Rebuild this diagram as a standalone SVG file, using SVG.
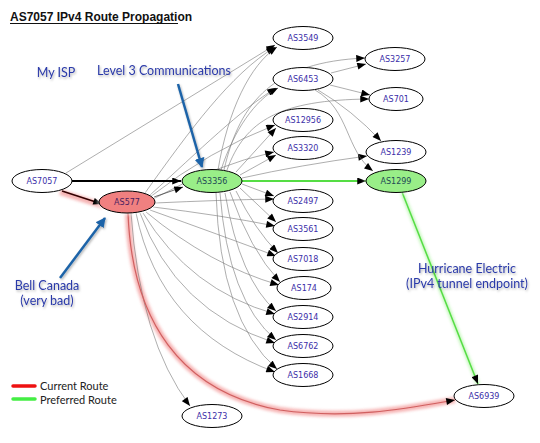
<svg xmlns="http://www.w3.org/2000/svg" width="540" height="443" viewBox="0 0 540 443">
<style>
.n ellipse{stroke:#000;stroke-width:1;fill:#fff}
.n text{font-family:"DejaVu Sans",sans-serif;font-size:8px;fill:#3b2ea8;text-anchor:middle}
.e{fill:none;stroke:#777;stroke-width:0.6;marker-end:url(#ah)}
.lbl{font-family:Lato,"Open Sans","Liberation Sans",sans-serif;font-size:12.5px;fill:#2b3aa8;text-anchor:middle;filter:url(#sh)}
.ba{stroke:#1f64a8;stroke-width:2.5;fill:none;marker-end:url(#bh);filter:url(#sh)}
</style>
<defs>
<marker id="ah" viewBox="0 0 10 8" refX="10" refY="4" markerWidth="10" markerHeight="7" markerUnits="userSpaceOnUse" orient="auto"><path d="M0,0 L10,4 L0,8 Z" fill="#000"/></marker>
<marker id="bh" viewBox="0 0 10 10" refX="9" refY="5" markerWidth="10" markerHeight="14" markerUnits="userSpaceOnUse" orient="auto"><path d="M0,0 L10,5 L0,10 Z" fill="#1f64a8"/></marker>
<filter id="sh" x="-20%" y="-20%" width="140%" height="140%"><feDropShadow dx="1" dy="1.5" stdDeviation="1" flood-color="#000" flood-opacity="0.3"/></filter>
<filter id="gl" x="-30%" y="-30%" width="160%" height="160%"><feGaussianBlur stdDeviation="1.5"/></filter>
</defs>
<rect width="540" height="443" fill="#fff"/>
<text x="10" y="21" font-family="Liberation Sans,Arial,sans-serif" font-size="12" font-weight="bold" fill="#111">AS7057 IPv4 Route Propagation</text>
<line x1="10" y1="23.5" x2="178" y2="23.5" stroke="#111" stroke-width="1"/>

<g id="connectors">
<path d="M128,213 C132,320 180,392 280,410 C350,420 410,408 455,400" fill="none" stroke="#f08080" stroke-width="6" opacity="0.6" filter="url(#gl)"/>
<path d="M60,192 L104,206" fill="none" stroke="#f08080" stroke-width="6" opacity="0.6" filter="url(#gl)"/>
<path d="M72,183 L182,183" fill="none" stroke="#88ee77" stroke-width="5" opacity="0.6" filter="url(#gl)"/>
<path d="M242,181 L366,181" fill="none" stroke="#88ee77" stroke-width="5" opacity="0.6" filter="url(#gl)"/>
<path d="M402,192 L478,384" fill="none" stroke="#88ee77" stroke-width="4" opacity="0.5" filter="url(#gl)"/>
<path class="e" d="M66,173 L275,45"/>
<path class="e" d="M145,193 C190,130 230,75 275,47"/>
<path class="e" d="M150,195 C200,150 240,110 276,88"/>
<path class="e" d="M150,197 Q210,150 275,125"/>
<path class="e" d="M153,199 Q215,165 274,152"/>
<path class="e" d="M155,203 Q220,200 274,199"/>
<path class="e" d="M153,207 Q220,215 275,226"/>
<path class="e" d="M150,210 Q220,235 276,256"/>
<path class="e" d="M146,212 Q210,265 279,285"/>
<path class="e" d="M143,213 Q190,290 275,314"/>
<path class="e" d="M140,213 Q175,310 275,343"/>
<path class="e" d="M136,213 Q160,330 275,372"/>
<path class="e" d="M131,213 Q140,340 190,406"/>
<path class="e" d="M218,170 C228,110 250,65 277,47"/>
<path class="e" d="M221,170 C234,130 255,100 278,88"/>
<path class="e" d="M224,170 C240,100 275,62 365,58"/>
<path class="e" d="M227,170 C245,120 280,100 369,99"/>
<path class="e" d="M236,172 L276,128"/>
<path class="e" d="M240,175 L276,155"/>
<path class="e" d="M242,178 Q300,165 367,156"/>
<path class="e" d="M242,184 L274,196"/>
<path class="e" d="M240,188 L276,222"/>
<path class="e" d="M236,191 Q255,230 278,253"/>
<path class="e" d="M230,192 Q250,250 280,282"/>
<path class="e" d="M225,193 Q240,280 276,311"/>
<path class="e" d="M220,193 Q228,300 276,340"/>
<path class="e" d="M216,193 Q220,320 277,369"/>
<path class="e" d="M331,73 L366,64"/>
<path class="e" d="M330,85 L370,95"/>
<path class="e" d="M318,90 Q352,110 381,141"/>
<path class="e" d="M315,90 C350,110 345,150 373,171"/>
<path d="M72,181 L181,181" fill="none" stroke="#000" stroke-width="2" marker-end="url(#ah)"/>
<path d="M62,191 L102,204" fill="none" stroke="#300" stroke-width="1.5" marker-end="url(#ah)"/>
<path d="M154,197 L183,187" fill="none" stroke="#444" stroke-width="0.8" marker-end="url(#ah)"/>
<path d="M242,181 L366,181" fill="none" stroke="#55dd44" stroke-width="2" marker-end="url(#ah)"/>
<path d="M402,192 L478,384" fill="none" stroke="#55dd44" stroke-width="1.5" marker-end="url(#ah)"/>
<path d="M128,213 C132,320 180,392 280,410 C350,420 410,408 455,400" fill="none" stroke="#d06060" stroke-width="1.2" marker-end="url(#ah)"/>
</g>

<g id="AS3549" class="n"><ellipse cx="303" cy="38" rx="30" ry="11.5"/><text x="303" y="41">AS3549</text></g>
<g id="AS3257" class="n"><ellipse cx="395" cy="59" rx="30" ry="11.5"/><text x="395" y="62">AS3257</text></g>
<g id="AS6453" class="n"><ellipse cx="303" cy="79" rx="30" ry="11.5"/><text x="303" y="82">AS6453</text></g>
<g id="AS701" class="n"><ellipse cx="396" cy="99" rx="27" ry="11.5"/><text x="396" y="102">AS701</text></g>
<g id="AS12956" class="n"><ellipse cx="303" cy="120" rx="30" ry="11.5"/><text x="303" y="123">AS12956</text></g>
<g id="AS3320" class="n"><ellipse cx="303" cy="148" rx="30" ry="11.5"/><text x="303" y="151">AS3320</text></g>
<g id="AS1239" class="n"><ellipse cx="396" cy="152" rx="30" ry="11.5"/><text x="396" y="155">AS1239</text></g>
<g id="AS1299" class="n"><ellipse cx="396" cy="181" rx="32" ry="13" fill="#88ee77" opacity="0.5" filter="url(#gl)" style="stroke:none"/><ellipse cx="396" cy="181" rx="30" ry="11.5" style="fill:#99ee88"/><text x="396" y="184" style="fill:#224a55">AS1299</text></g>
<g id="AS2497" class="n"><ellipse cx="303" cy="201" rx="30" ry="11.5"/><text x="303" y="204">AS2497</text></g>
<g id="AS3561" class="n"><ellipse cx="303" cy="229" rx="30" ry="11.5"/><text x="303" y="232">AS3561</text></g>
<g id="AS7018" class="n"><ellipse cx="303" cy="259" rx="30" ry="11.5"/><text x="303" y="262">AS7018</text></g>
<g id="AS174" class="n"><ellipse cx="304" cy="288" rx="27" ry="11.5"/><text x="304" y="291">AS174</text></g>
<g id="AS2914" class="n"><ellipse cx="303" cy="317" rx="30" ry="11.5"/><text x="303" y="320">AS2914</text></g>
<g id="AS6762" class="n"><ellipse cx="303" cy="346" rx="30" ry="11.5"/><text x="303" y="349">AS6762</text></g>
<g id="AS1668" class="n"><ellipse cx="303" cy="375" rx="30" ry="11.5"/><text x="303" y="378">AS1668</text></g>
<g id="AS6939" class="n"><ellipse cx="484" cy="396" rx="30" ry="11.5"/><text x="484" y="399">AS6939</text></g>
<g id="AS1273" class="n"><ellipse cx="212" cy="416" rx="30" ry="11.5"/><text x="212" y="419">AS1273</text></g>
<g id="AS7057" class="n"><ellipse cx="42" cy="181" rx="30" ry="11.5"/><text x="42" y="184">AS7057</text></g>
<g id="AS577" class="n"><ellipse cx="127" cy="202" rx="30" ry="13" fill="#f08080" opacity="0.5" filter="url(#gl)" style="stroke:none"/><ellipse cx="127" cy="202" rx="28" ry="11" style="fill:#f08080"/><text x="127" y="205" style="fill:#4a2060">AS577</text></g>
<g id="AS3356" class="n"><ellipse cx="212" cy="181" rx="30" ry="11.5" style="fill:#99ee88"/><text x="212" y="184" style="fill:#224a55">AS3356</text></g>

<g id="annotations">
<text class="lbl" x="56" y="77">My ISP</text>
<text class="lbl" x="164" y="75">Level 3 Communications</text>
<text class="lbl" x="47" y="290">Bell Canada</text>
<text class="lbl" x="47" y="305">(very bad)</text>
<text class="lbl" x="467" y="273">Hurricane Electric</text>
<text class="lbl" x="467" y="288">(IPv4 tunnel endpoint)</text>
<path class="ba" d="M48,85 L48,158"/>
<path class="ba" d="M178,84 L202,167"/>
<path class="ba" d="M60,278 L105,218"/>
<path class="ba" d="M485,294 L485,380"/>
</g>

<g id="legend">
<line x1="13" y1="386" x2="35" y2="386" stroke="#ee1111" stroke-width="3.5" stroke-linecap="round"/>
<line x1="13" y1="399" x2="35" y2="399" stroke="#44ee44" stroke-width="3.5" stroke-linecap="round"/>
<text x="40" y="390" font-family="Lato,Open Sans,Liberation Sans,sans-serif" font-size="11" fill="#222">Current Route</text>
<text x="40" y="403.5" font-family="Lato,Open Sans,Liberation Sans,sans-serif" font-size="11" fill="#222">Preferred Route</text>
</g>
</svg>
